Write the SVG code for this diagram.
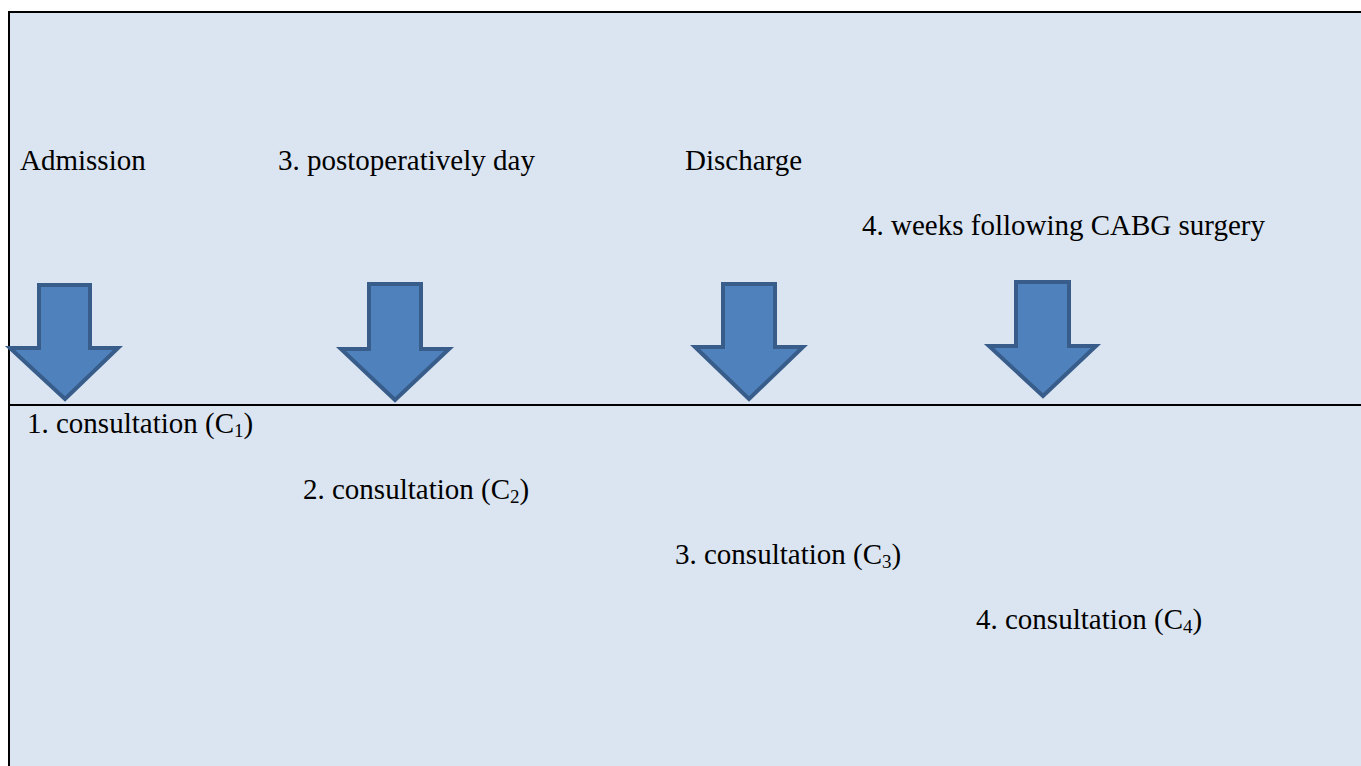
<svg xmlns="http://www.w3.org/2000/svg" width="1361" height="766" viewBox="0 0 1361 766">
<style>
.t{font-family:"Liberation Serif","Times New Roman",Times,serif;font-size:29px;fill:#000}
.sub{font-size:19px}
.arrow{fill:#4f81bd;stroke:#385d8a;stroke-width:4;stroke-linejoin:miter}
.line{stroke:#000;stroke-width:2;fill:none}
</style>
<rect x="0" y="0" width="1361" height="766" fill="#ffffff"/>
<g id="panel">
<rect x="9" y="12" width="1352" height="754" fill="#dbe5f1"/>
<path class="line" d="M9,766 V12 H1361"/>
<path class="line" d="M9,405 H1361"/>
</g>
<g id="labels-top">
<text id="admission" class="t" x="20" y="170">Admission</text>
<text id="postop" class="t" x="278" y="170">3. postoperatively day</text>
<text id="discharge" class="t" x="685" y="170">Discharge</text>
<text id="weeks" class="t" x="862" y="235">4. weeks following CABG surgery</text>
</g>
<g id="connectors">
<path id="arrow1" class="arrow" d="M39,285 H90 V348 H118 L65,399 L10,348 H39 Z"/>
<path id="arrow2" class="arrow" d="M369,284 H421 V349 H449 L395,400 L341,349 H369 Z"/>
<path id="arrow3" class="arrow" d="M723,284 H775 V347 H803 L749,399 L695,347 H723 Z"/>
<path id="arrow4" class="arrow" d="M1016,282 H1069 V346 H1096 L1043,396 L989,346 H1016 Z"/>
</g>
<g id="consultations">
<g id="c1"><text class="t" x="27" y="433">1. consultation (C<tspan class="sub" dy="4">1</tspan><tspan dy="-4">)</tspan></text></g>
<g id="c2"><text class="t" x="303" y="499">2. consultation (C<tspan class="sub" dy="4">2</tspan><tspan dy="-4">)</tspan></text></g>
<g id="c3"><text class="t" x="675" y="564">3. consultation (C<tspan class="sub" dy="4">3</tspan><tspan dy="-4">)</tspan></text></g>
<g id="c4"><text class="t" x="976" y="629">4. consultation (C<tspan class="sub" dy="4">4</tspan><tspan dy="-4">)</tspan></text></g>
</g>
</svg>
